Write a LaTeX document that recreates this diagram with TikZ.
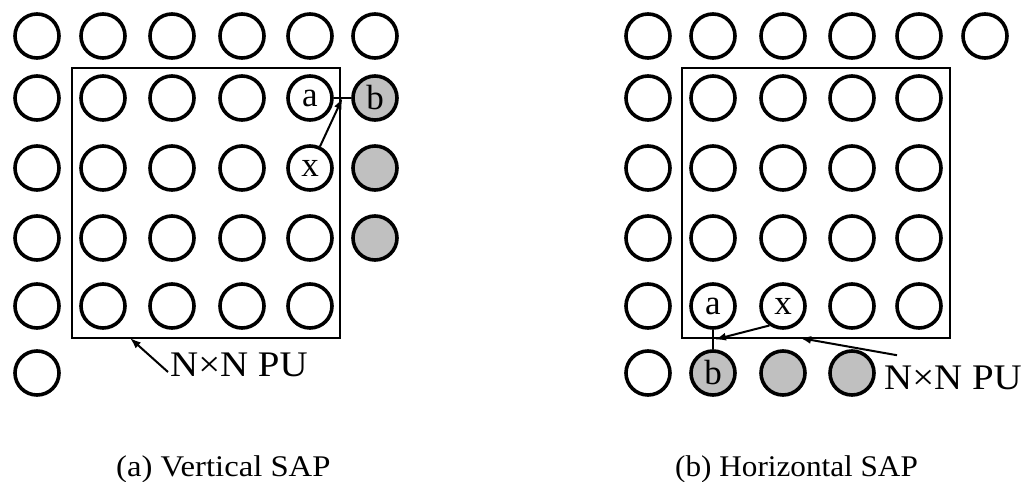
\documentclass[tikz,border=0pt]{standalone}
\usepackage{fontspec}
\setmainfont{Liberation Serif}
\usetikzlibrary{arrows.meta}
\definecolor{pgray}{RGB}{192,192,192}
\begin{document}
\begin{tikzpicture}[x=1pt,y=-1pt,
  cell/.style={circle,draw,line width=3.6pt,minimum size=44pt,inner sep=0pt,fill=white,font=\fontsize{35}{35}\selectfont},
  hot/.style={cell,fill=pgray},
  pu/.style={draw,line width=2.7pt,inner sep=0pt,outer sep=0pt},
  conn/.style={line width=2pt},
  arr/.style={line width=2pt,-{Latex[length=11pt,width=8pt]}},
  lbl/.style={inner sep=0pt,font=\fontsize{36}{38}\selectfont},
  captxt/.style={inner sep=0pt,font=\fontsize{30}{32}\selectfont}]
\useasboundingbox (0,0) rectangle (1023,482);

% ---------- (a) Vertical SAP ----------
\node[pu,minimum width=268pt,minimum height=270pt] (puL) at (206,203) {};
\foreach \c/\x in {1/37,2/103,3/172,4/242,5/310,6/375}
  \node[cell] (L1\c) at (\x,36) {};
\foreach \r/\y in {2/98,3/168,4/238,5/306}
  \foreach \c/\x in {1/37,2/103,3/172,4/242}
    \node[cell] (L\r\c) at (\x,\y) {};
\node[cell] (La) at (310,98) {a};
\node[cell] (Lx) at (310,168) {x};
\node[cell] (L45) at (310,238) {};
\node[cell] (L55) at (310,306) {};
\node[hot] (Lb) at (375,98) {b};
\node[hot] (L36) at (375,168) {};
\node[hot] (L46) at (375,238) {};
\node[cell] (L61) at (37,373) {};

\draw[conn] (La.east) -- coordinate[midway] (Lab) (Lb.west);
\draw[arr] (Lx) -- (Lab);

\node[lbl,anchor=base west] (NL) at (170,376) {\scalebox{1.08}[1]{N×N PU}};
\draw[arr] ([xshift=-2pt,yshift=4pt]NL.base west) -- ([xshift=58pt]puL.south west);

\node[captxt,anchor=base west] (capL) at (116,476.5) {\scalebox{1.09}[1]{(a) Vertical SAP}};

% ---------- (b) Horizontal SAP ----------
\node[pu,minimum width=268pt,minimum height=270pt] (puR) at (816,203) {};
\foreach \c/\x in {1/648,2/713,3/783,4/852,5/919,6/985}
  \node[cell] (R1\c) at (\x,36) {};
\foreach \r/\y in {2/98,3/168,4/238}
  \foreach \c/\x in {1/648,2/713,3/783,4/852,5/919}
    \node[cell] (R\r\c) at (\x,\y) {};
\node[cell] (R51) at (648,306) {};
\node[cell] (Ra) at (713,306) {a};
\node[cell] (Rx) at (783,306) {x};
\node[cell] (R54) at (852,306) {};
\node[cell] (R55) at (919,306) {};
\node[cell] (R61) at (648,373) {};
\node[hot] (Rb) at (713,373) {b};
\node[hot] (R63) at (783,373) {};
\node[hot] (R64) at (852,373) {};

\draw[conn] (Ra.south) -- coordinate[midway] (Rab) (Rb.north);
\draw[arr] (Rx.235) -- ([xshift=2pt]Rab);

\node[lbl,anchor=base west] (NR) at (884,389) {\scalebox{1.08}[1]{N×N PU}};
\draw[arr] ([xshift=13pt,yshift=10pt]NR.north west) -- ([xshift=118pt]puR.south west);

\node[captxt,anchor=base west] (capR) at (675,476.5) {\scalebox{1.04}[1]{(b) Horizontal SAP}};
\end{tikzpicture}
\end{document}
